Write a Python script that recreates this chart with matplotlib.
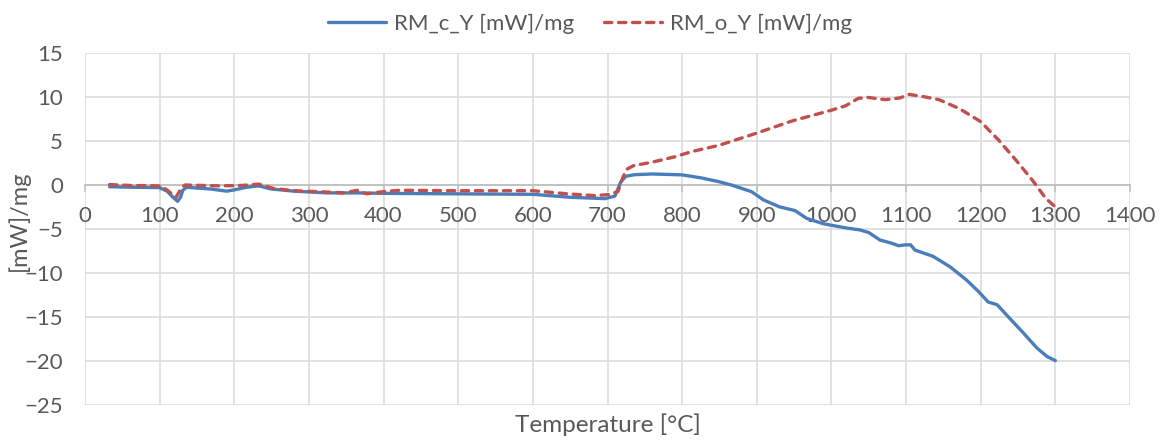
import matplotlib
matplotlib.use('Agg')
import matplotlib.pyplot as plt

plt.rcParams['font.family'] = ['Lato', 'DejaVu Sans']

# DSC signal, coated sample (RM_c_Y)
temp_c = [33, 60, 100, 110, 118, 124, 128, 131, 136, 150, 168, 190, 200, 217, 233,
          249, 280, 325, 369, 400, 490, 600, 651, 697, 710, 718, 725, 736, 760, 781,
          800, 826, 849, 866, 893, 909, 931, 951, 967, 989, 1021, 1038, 1050, 1065,
          1080, 1090, 1099, 1106, 1112, 1136, 1159, 1181, 1197, 1210, 1222, 1235,
          1257, 1275, 1289, 1300]
rm_c_y = [-0.2, -0.25, -0.3, -0.7, -1.4, -1.85, -1.4, -0.6, -0.25, -0.35, -0.45, -0.7,
          -0.55, -0.25, -0.1, -0.45, -0.7, -0.9, -0.9, -0.95, -1.0, -1.06, -1.4, -1.55,
          -1.25, 0.4, 1.0, 1.17, 1.25, 1.2, 1.15, 0.8, 0.38, 0.0, -0.76, -1.7, -2.5,
          -2.9, -3.8, -4.4, -4.9, -5.1, -5.4, -6.25, -6.6, -6.9, -6.8, -6.8, -7.4,
          -8.1, -9.3, -10.8, -12.1, -13.3, -13.6, -14.8, -16.8, -18.5, -19.5, -19.95]

# DSC signal, oxidised sample (RM_o_Y)
temp_o = [33, 60, 100, 109, 116, 122, 126, 129, 134, 180, 210, 233, 253, 280, 325,
          347, 365, 377, 400, 422, 500, 600, 646, 682, 701, 714, 721, 726, 735, 760,
          790, 813, 849, 900, 947, 1000, 1019, 1036, 1049, 1072, 1092, 1104, 1126,
          1144, 1171, 1200, 1224, 1247, 1269, 1287, 1300]
rm_o_y = [0.05, -0.05, -0.1, -0.5, -1.0, -1.4, -0.8, -0.3, 0.0, -0.1, -0.05, 0.1,
          -0.4, -0.65, -0.8, -0.9, -0.6, -1.0, -0.75, -0.6, -0.65, -0.65, -1.0, -1.2,
          -1.1, -0.75, 0.95, 1.8, 2.2, 2.6, 3.2, 3.8, 4.5, 5.9, 7.27, 8.5, 9.0, 9.85,
          9.95, 9.7, 9.9, 10.3, 10.0, 9.7, 8.7, 7.2, 5.1, 2.85, 0.57, -1.5, -2.5]

x_ticks = list(range(0, 1401, 100))
y_ticks = list(range(-25, 16, 5))

text_col = '#595959'
grid_col = '#D9D9D9'

fig = plt.figure(figsize=(11.62, 4.41), dpi=100)
ax = fig.add_axes([85 / 1162, 1 - 405 / 441, 1045 / 1162, 352 / 441])

ax.plot(temp_c, rm_c_y, color='#4A7EBB', lw=2.4, solid_capstyle='round',
        label='RM_c_Y [mW]/mg', zorder=3)
ax.plot(temp_o, rm_o_y, color='#C0504D', lw=2.4, dashes=(2.2, 2.0),
        dash_capstyle='round', label='RM_o_Y [mW]/mg', zorder=4)

ax.set_xlim(0, 1400)
ax.set_ylim(-25, 15)
ax.set_xticks(x_ticks)
ax.set_yticks(y_ticks)
ax.grid(True, color=grid_col, lw=1.1)
ax.set_axisbelow(True)

for side in ['top', 'right', 'left']:
    ax.spines[side].set_visible(False)
ax.spines['bottom'].set_position(('data', 0))
ax.spines['bottom'].set_color('#BFBFBF')
ax.spines['bottom'].set_linewidth(1.3)

ax.tick_params(axis='x', direction='out', length=5, width=1.1, color='#BFBFBF',
               labelsize=16, labelcolor=text_col, pad=10)
ax.tick_params(axis='y', length=0, labelsize=16, labelcolor=text_col, pad=16)

ax.set_xlabel('Temperature [°C]', fontsize=17.5, color=text_col)
ax.xaxis.set_label_coords(0.5, -0.025, transform=ax.transAxes)
ax.xaxis.label.set_va('top')
ax.set_ylabel('[mW]/mg', fontsize=17, color=text_col)
ax.yaxis.label.set_va('center')
ax.yaxis.set_label_coords(19 / 1162, 0.5, transform=fig.transFigure)

fig.legend(loc='upper center', bbox_to_anchor=(590 / 1162, 1.015), ncol=2,
           frameon=False, fontsize=16, handlelength=2.6, handletextpad=0.35,
           columnspacing=1.35, labelcolor=text_col)

fig.savefig('out.png', dpi=100)
